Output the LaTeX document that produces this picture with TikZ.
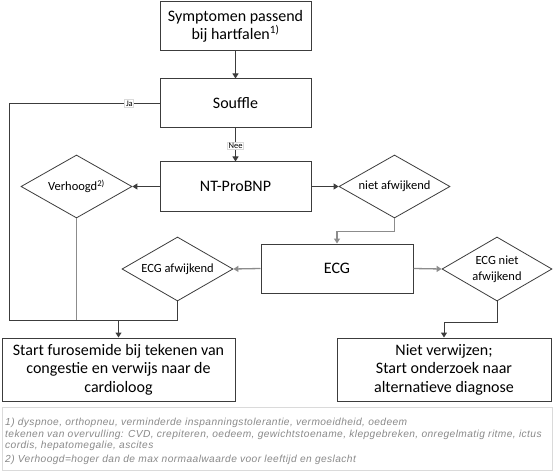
\documentclass[tikz,border=0pt]{standalone}
\usepackage{fontspec}
\setmainfont{Carlito}
\newfontfamily\notefont[LetterSpace=4]{Liberation Sans}
\usetikzlibrary{shapes.geometric,arrows.meta}
\definecolor{boxline}{HTML}{3C3C3C}
\definecolor{lgray}{HTML}{8C8C8C}
\definecolor{notegray}{HTML}{8A8A8A}
\definecolor{noteframe}{HTML}{DADADA}
\tikzset{
  flowbox/.style={draw=boxline, line width=1pt, fill=white, inner sep=0pt, align=center,
    font=\fontsize{16}{18.5}\selectfont},
  decision/.style={diamond, draw=boxline, line width=0.8pt, fill=white, inner sep=0pt,
    aspect=1.76, minimum width=111pt, minimum height=63pt, align=center,
    font=\fontsize{12.5}{16}\selectfont},
  conn/.style={draw=boxline, line width=1pt},
  gconn/.style={draw=lgray, line width=1.3pt},
  tip/.style={-{Triangle[length=5pt,width=6pt]}},
  lbl/.style={font=\fontsize{8.5}{9}\selectfont, fill=white, draw=noteframe, inner sep=1.2pt},
}
\begin{document}
\begin{tikzpicture}[x=1pt,y=-1pt]
\useasboundingbox (0,0) rectangle (559,473);
\fill[white] (0,0) rectangle (559,473);

\node[flowbox, minimum width=151pt, minimum height=49pt] (top) at (235.5,26.5)
  {Symptomen passend\\bij hartfalen\textsuperscript{1)}};
\node[flowbox, minimum width=151pt, minimum height=49pt] (souffle) at (235.5,103.5) {Souffle};
\node[flowbox, minimum width=151pt, minimum height=49pt] (ntpro) at (235.5,186.5) {NT-ProBNP};
\node[decision] (verh) at (76.5,186.5) {Verhoogd\textsuperscript{2)}};
\node[decision] (nafw) at (394.5,186.5) {niet afwijkend};
\node[flowbox, minimum width=152pt, minimum height=49pt] (ecg) at (337,268.5) {ECG};
\node[decision, minimum height=64pt] (ecgafw) at (177.5,269) {ECG afwijkend};
\node[decision, minimum width=110pt, minimum height=64pt] (ecgniet) at (497,269) {ECG niet\\afwijkend};
\node[flowbox, minimum width=233pt, minimum height=63pt] (start) at (118.5,369.5)
  {Start furosemide bij tekenen van\\congestie en verwijs naar de\\cardioloog};
\node[flowbox, minimum width=214pt, minimum height=63pt] (niet) at (444,369.5)
  {Niet verwijzen;\\Start onderzoek naar\\alternatieve diagnose};

\coordinate (jl) at (9,320);
\coordinate (jm) at (118.5,320);
\coordinate (jr) at (177.5,320);

% connectors
\draw[conn, tip] (top.south) -- (souffle.north);
\draw[conn] (souffle.west) -- node[lbl, pos=0.2]{Ja} (souffle.west -| jl) -- (jl) -- (jr);
\draw[conn, tip] (souffle.south) -- node[lbl, pos=0.53]{Nee} (ntpro.north);
\draw[conn, tip] (ntpro.west) -- (verh.east);
\draw[conn, tip] (ntpro.east) -- (nafw.west);
\draw[gconn, tip] (nafw.south) -- ++(0,13) -| (ecg.north);
\draw[gconn, tip] (ecg.west) -- (ecgafw.east);
\draw[gconn, tip] (ecg.east) -- (ecgniet.west);
\draw[gconn] (verh.south) -- (verh.south |- jl);
\draw[conn] (ecgafw.south) -- (jr);
\draw[conn, tip] (jm) -- (start.north);
\draw[conn, tip] (ecgniet.south) -- ++(0,21) -| (niet.north);

% footnote
\node[draw=noteframe, line width=0.8pt, minimum width=550pt, minimum height=63.5pt, inner sep=0pt] (notebox) at (277.5,439) {};
\node[anchor=north west, align=left, inner sep=0pt, text=notegray,
  font=\notefont\itshape\fontsize{10.2}{11.6}\selectfont] (notes) at (5,418)
  {1) dyspnoe, orthopneu, verminderde inspanningstolerantie, vermoeidheid, oedeem\\
   tekenen van overvulling: CVD, crepiteren, oedeem, gewichtstoename, klepgebreken, onregelmatig ritme, ictus\\
   cordis, hepatomegalie, ascites\\[2pt]
   2) Verhoogd=hoger dan de max normaalwaarde voor leeftijd en geslacht};
\end{tikzpicture}
\end{document}
